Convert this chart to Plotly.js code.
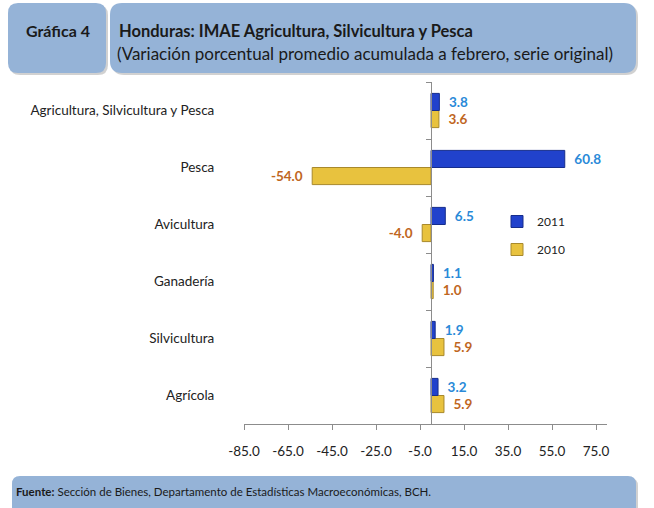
<!DOCTYPE html>
<html>
<head>
<meta charset="utf-8">
<script src="https://cdn.plot.ly/plotly-3.0.1.min.js"></script>
<style>
  html, body { margin: 0; padding: 0; background: #fff; }
  #chart { width: 654px; height: 508px; }
</style>
</head>
<body>
<div id="chart"></div>
<script>
// categories bottom-up (plotly draws the first category at the bottom)
const categories = ['Agrícola', 'Silvicultura', 'Ganadería', 'Avicultura', 'Pesca', 'Agricultura, Silvicultura y Pesca'];
const values2011 = [3.2, 1.9, 1.1, 6.5, 60.8, 3.8];
const values2010 = [5.9, 5.9, 1.0, -4.0, -54.0, 3.6];
const xTicks = [-85, -65, -45, -25, -5, 15, 35, 55, 75];

// plot area in page pixels
const L = 244, T = 82, W = 363, H = 342;
const fx = px => (px - L) / W;
const fy = py => 1 - (py - T) / H;

function roundRect(x0, y0, x1, y1, r) {
  const p = [
    `M${fx(x0 + r)},${fy(y0)}`,
    `L${fx(x1 - r)},${fy(y0)}`,
    `Q${fx(x1)},${fy(y0)} ${fx(x1)},${fy(y0 + r)}`,
    `L${fx(x1)},${fy(y1 - r)}`,
    `Q${fx(x1)},${fy(y1)} ${fx(x1 - r)},${fy(y1)}`,
    `L${fx(x0 + r)},${fy(y1)}`,
    `Q${fx(x0)},${fy(y1)} ${fx(x0)},${fy(y1 - r)}`,
    `L${fx(x0)},${fy(y0 + r)}`,
    `Q${fx(x0)},${fy(y0)} ${fx(x0 + r)},${fy(y0)}`,
    'Z'
  ];
  return p.join(' ');
}

function box(x0, y0, x1, y1, r) {
  return [
    { type: 'path', xref: 'paper', yref: 'paper', path: roundRect(x0 + 2, y0 + 2, x1 + 2, y1 + 2, r),
      fillcolor: 'rgba(0,0,0,0.18)', line: { width: 0 }, layer: 'below' },
    { type: 'path', xref: 'paper', yref: 'paper', path: roundRect(x0, y0, x1, y1, r),
      fillcolor: '#95B3D7', line: { width: 0 }, layer: 'below' }
  ];
}

// labels sit a little away from the bar end, like the original
const pad = '\u00a0\u00a0';
const label = v => v < 0 ? v.toFixed(1) + pad : pad + v.toFixed(1);

const font = 'Lato, "Open Sans", sans-serif';

const traces = [
  {
    type: 'bar', orientation: 'h', name: '2010', legendgroup: 'a', legendrank: 2,
    y: categories, x: values2010,
    text: values2010.map(label),
    textposition: 'outside', cliponaxis: false,
    textfont: { family: font, size: 13.5, color: '#C0661E', weight: 'bold' },
    marker: { color: '#E8C23E', line: { color: '#A8892C', width: 1 } },
    hoverinfo: 'skip'
  },
  {
    type: 'bar', orientation: 'h', name: '2011', legendgroup: 'b', legendrank: 1,
    y: categories, x: values2011,
    text: values2011.map(label),
    textposition: 'outside', cliponaxis: false,
    textfont: { family: font, size: 13.5, color: '#2A8AD8', weight: 'bold' },
    marker: { color: '#2142CC', line: { color: '#162D8C', width: 1 } },
    hoverinfo: 'skip'
  }
];

const layout = {
  width: 654, height: 508,
  margin: { l: L, r: 654 - L - W, t: T, b: 508 - T - H },
  paper_bgcolor: '#fff', plot_bgcolor: 'rgba(0,0,0,0)',
  font: { family: font, size: 12, color: '#222' },
  barmode: 'group', bargap: 0.4, bargroupgap: 0,
  showlegend: true,
  legend: {
    x: fx(497), y: fy(207), xanchor: 'left', yanchor: 'top',
    traceorder: 'grouped', tracegroupgap: 9,
    font: { family: font, size: 12, color: '#222' },
    bgcolor: 'rgba(0,0,0,0)', itemwidth: 30
  },
  xaxis: {
    range: [-85, 80], showgrid: false,
    zeroline: true, zerolinecolor: '#8c8c8c', zerolinewidth: 1,
    showline: true, linecolor: '#8c8c8c', linewidth: 1,
    ticks: 'outside', ticklen: 5, tickcolor: '#8c8c8c',
    tickmode: 'array', tickvals: xTicks, ticktext: xTicks.map(v => v.toFixed(1)),
    ticklabelstandoff: 10,
    tickfont: { family: font, size: 13.5, color: '#222' },
    fixedrange: true
  },
  yaxis: {
    type: 'category', range: [-0.5, 5.5], showgrid: false,
    anchor: 'free', position: 85 / 165,
    showline: true, linecolor: '#8c8c8c', linewidth: 1,
    ticks: 'outside', ticklen: 5, tickcolor: '#8c8c8c', tickson: 'boundaries',
    ticklabelstandoff: 214, automargin: false,
    tickfont: { family: font, size: 13.5, color: '#222' },
    fixedrange: true
  },
  shapes: [
    ...box(8, 3, 106, 73, 10),
    ...box(110, 3, 636, 73, 12),
    ...box(12, 476, 636, 516, 8)
  ],
  annotations: [
    { xref: 'paper', yref: 'paper', x: fx(58), y: fy(31), xanchor: 'center', yanchor: 'middle',
      text: '<b>Gráfica 4</b>', showarrow: false, font: { family: font, size: 16, color: '#1a1a1a' } },
    { xref: 'paper', yref: 'paper', x: fx(117), y: fy(31), xanchor: 'left', yanchor: 'middle',
      text: '<b>Honduras: IMAE Agricultura, Silvicultura y Pesca</b>', showarrow: false,
      font: { family: font, size: 16.5, color: '#1a1a1a' } },
    { xref: 'paper', yref: 'paper', x: fx(115), y: fy(54), xanchor: 'left', yanchor: 'middle',
      text: '(Variación porcentual promedio acumulada a febrero, serie original)', showarrow: false,
      font: { family: font, size: 17, color: '#1a1a1a' } },
    { xref: 'paper', yref: 'paper', x: fx(14), y: fy(491), xanchor: 'left', yanchor: 'middle',
      text: '<b>Fuente:</b> Sección de Bienes, Departamento de Estadísticas Macroeconómicas, BCH.', showarrow: false,
      font: { family: font, size: 11.5, color: '#1a1a1a' } }
  ]
};

Plotly.newPlot('chart', traces, layout, { displayModeBar: false, staticPlot: true });
</script>
</body>
</html>
